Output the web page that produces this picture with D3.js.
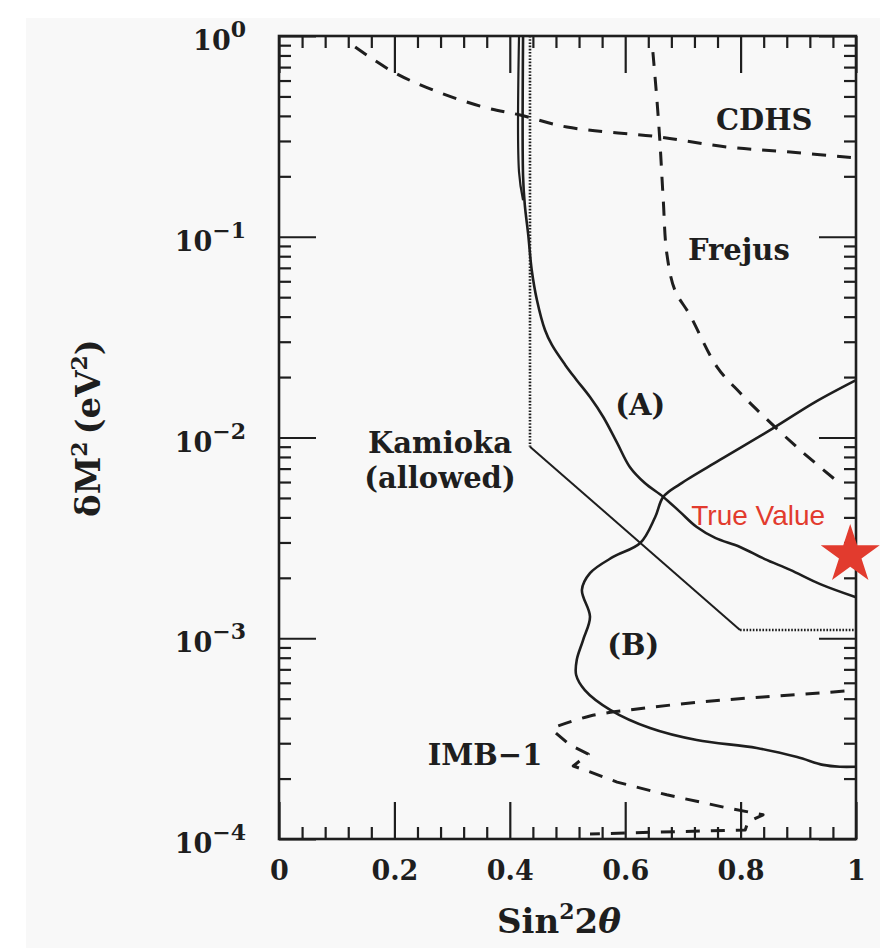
<!DOCTYPE html>
<html lang="en">
<head>
<meta charset="UTF-8">
<title>Kamioka allowed region</title>
<script src="https://d3js.org/d3.v7.min.js"></script>
<style>
  body { margin: 0; background: #fff; }
  svg { display: block; }
  .lbl { font-family: "DejaVu Serif", serif; font-weight: bold; fill: #1e1e1e; }
</style>
</head>
<body>
<div id="chart"></div>
<script>
// axis ticks
const xTicks = [0, 0.2, 0.4, 0.6, 0.8, 1];
const xTickLabels = ["0", "0.2", "0.4", "0.6", "0.8", "1"];
const yTicks = [1, 1e-1, 1e-2, 1e-3, 1e-4];
const yTickExp = ["0", "\u22121", "\u22122", "\u22123", "\u22124"];

// Kamioka (A) boundary, solid
const curveA = [[0.423,1],[0.423,0.20],[0.426,0.144],[0.432,0.102],[0.438,0.0683],[0.447,0.0484],
  [0.461,0.0343],[0.473,0.0289],[0.496,0.0230],[0.516,0.0193],[0.539,0.0159],[0.562,0.01265],
  [0.586,0.0094],[0.608,0.00713],[0.634,0.00593],[0.666,0.00506],[0.695,0.00426],[0.724,0.00358],
  [0.756,0.00316],[0.799,0.00285],[0.842,0.00248],[0.886,0.00219],[0.938,0.00186],[1,0.0016]];
const curveA2 = [[0.416,1],[0.416,0.21],[0.423,0.152]];

// Kamioka other boundary: dotted vertical, thin diagonal, dotted horizontal
const kamVert = [[0.435,1],[0.435,0.009]];
const kamDiag = [[0.435,0.009],[0.799,0.0011]];
const kamHorz = [[0.799,0.0011],[1,0.0011]];

// Kamioka (B) boundary, solid
const curveB = [[1,0.0193],[0.929,0.0150],[0.856,0.0111],[0.764,0.00773],[0.695,0.00586],[0.666,0.00506],
  [0.652,0.00402],[0.626,0.00298],[0.579,0.00254],[0.539,0.00211],[0.525,0.00174],[0.539,0.00128],
  [0.527,0.00098],[0.516,0.00078],[0.515,0.000656],[0.530,0.000552],[0.574,0.00044],[0.643,0.000357],
  [0.724,0.000311],[0.828,0.000284],[0.898,0.000256],[0.943,0.000234],[0.972,0.000229],[1,0.000229]];

// excluded limits, dashed
const cdhs = [[0.132,0.881],[0.198,0.662],[0.267,0.538],[0.354,0.443],[0.418,0.404],[0.499,0.352],
  [0.660,0.314],[0.776,0.280],[0.886,0.264],[1,0.247]];
const frejus = [[0.648,0.832],[0.655,0.480],[0.660,0.303],[0.666,0.152],[0.672,0.083],[0.686,0.0543],
  [0.712,0.0408],[0.759,0.0225],[0.799,0.0167],[0.834,0.01325],[0.903,0.00867],[0.969,0.0060]];
const imbUpper = [[0.484,3.66e-4],[0.539,4.10e-4],[0.608,4.40e-4],[0.730,4.81e-4],[0.839,5.10e-4],
  [0.938,5.34e-4],[1,5.52e-4]];
const imbLower = [[0.480,3.37e-4],[0.504,2.94e-4],[0.536,2.65e-4],[0.510,2.31e-4],[0.539,2.16e-4],
  [0.586,1.92e-4],[0.672,1.66e-4],[0.776,1.43e-4],[0.839,1.32e-4],[0.813,1.22e-4],[0.808,1.11e-4],
  [0.539,1.06e-4]];

const trueValue = [[0.99, 2.6e-3]];

// region labels (baseline positions)
const labels = [
  {t: "CDHS", x: 0.841, y: 0.34},
  {t: "Frejus", x: 0.797, y: 0.0766},
  {t: "(A)", x: 0.626, y: 0.01295},
  {t: "Kamioka", x: 0.279, y: 0.00837},
  {t: "(allowed)", x: 0.279, y: 0.0056},
  {t: "(B)", x: 0.614, y: 8.26e-4},
  {t: "IMB\u22121", x: 0.357, y: 2.34e-4}
];

const W = 888, H = 948;
const x = d3.scaleLinear().domain([0, 1]).range([279, 856]);
const y = d3.scaleLog().domain([1e-4, 1]).range([839, 36]);

const svg = d3.select("#chart").append("svg").attr("width", W).attr("height", H);
svg.append("rect").attr("x", 26).attr("y", 18).attr("width", 854).attr("height", H - 18).attr("fill", "#f8f8f8");

const ink = "#1e1e1e";
const xMinor = d3.range(0, 1.0001, 0.04).filter(v => Math.abs(v / 0.2 - Math.round(v / 0.2)) > 1e-6);
const yMinor = [];
[1e-4, 1e-3, 1e-2, 1e-1].forEach(d => { for (let k = 2; k <= 9; k++) yMinor.push(d * k); });

function styleAxis(g) {
  g.select(".domain").remove();
  g.selectAll(".tick line").attr("stroke", ink).attr("stroke-width", 2.2);
}

// bottom / top
svg.append("g").attr("transform", "translate(0,839)")
  .call(d3.axisBottom(x).tickValues(xTicks).tickSize(-37).tickPadding(22).tickFormat((d, i) => xTickLabels[i]))
  .call(styleAxis)
  .call(g => g.selectAll("text").attr("class", "lbl").attr("font-size", 27).attr("fill", ink));
svg.append("g").attr("transform", "translate(0,839)")
  .call(d3.axisBottom(x).tickValues(xMinor).tickSize(-12).tickFormat("")).call(styleAxis);
svg.append("g").attr("transform", "translate(0,36)")
  .call(d3.axisTop(x).tickValues(xTicks).tickSize(-37).tickFormat("")).call(styleAxis);
svg.append("g").attr("transform", "translate(0,36)")
  .call(d3.axisTop(x).tickValues(xMinor).tickSize(-12).tickFormat("")).call(styleAxis);

// left / right
svg.append("g").attr("transform", "translate(279,0)")
  .call(d3.axisLeft(y).tickValues(yTicks).tickSize(-37).tickFormat("")).call(styleAxis);
svg.append("g").attr("transform", "translate(279,0)")
  .call(d3.axisLeft(y).tickValues(yMinor).tickSize(-12).tickFormat("")).call(styleAxis);
svg.append("g").attr("transform", "translate(856,0)")
  .call(d3.axisRight(y).tickValues(yTicks).tickSize(-37).tickFormat("")).call(styleAxis);
svg.append("g").attr("transform", "translate(856,0)")
  .call(d3.axisRight(y).tickValues(yMinor).tickSize(-12).tickFormat("")).call(styleAxis);

// y tick labels 10^n
yTicks.forEach((v, i) => {
  const t = svg.append("text").attr("class", "lbl").attr("font-size", 27)
    .attr("x", 246).attr("y", y(v) + 14).attr("text-anchor", "end");
  t.append("tspan").text("10");
  t.append("tspan").attr("font-size", 22).attr("dy", -13).text(yTickExp[i]);
});

// frame
svg.append("rect").attr("x", 279).attr("y", 36).attr("width", 577).attr("height", 803)
  .attr("fill", "none").attr("stroke", ink).attr("stroke-width", 2.6);

const line = d3.line().x(d => x(d[0])).y(d => y(d[1]));
const smooth = d3.line().x(d => x(d[0])).y(d => y(d[1])).curve(d3.curveCatmullRom.alpha(0.5));

const plot = svg.append("g").attr("fill", "none").attr("stroke", ink).attr("stroke-linejoin", "round");
plot.append("path").attr("d", smooth(curveA)).attr("stroke-width", 2.6);
plot.append("path").attr("d", smooth(curveA2)).attr("stroke-width", 2.2);
plot.append("path").attr("d", smooth(curveB)).attr("stroke-width", 2.6);
plot.append("path").attr("d", line(kamVert)).attr("stroke-width", 2.6).attr("stroke-dasharray", "1.6,1.6");
plot.append("path").attr("d", line(kamDiag)).attr("stroke-width", 2);
plot.append("path").attr("d", line(kamHorz)).attr("stroke-width", 2.6).attr("stroke-dasharray", "1.6,1.6");
[cdhs, frejus, imbUpper].forEach(s => {
  plot.append("path").attr("d", smooth(s)).attr("stroke-width", 3).attr("stroke-dasharray", "14,11");
});
plot.append("path").attr("d", line(imbLower)).attr("stroke-width", 3).attr("stroke-dasharray", "14,11");

// region labels
labels.forEach(l => {
  svg.append("text").attr("class", "lbl").attr("font-size", 29).attr("text-anchor", "middle")
    .attr("x", x(l.x)).attr("y", y(l.y)).text(l.t);
});

// true value marker
svg.selectAll(".star").data(trueValue).enter().append("path")
  .attr("d", d3.symbol(d3.symbolStar).size(1080))
  .attr("transform", d => `translate(${x(d[0])},${y(d[1])})`)
  .attr("fill", "#e23b2e");
svg.append("text").attr("x", x(trueValue[0][0]) - 92).attr("y", y(trueValue[0][1]) - 30)
  .attr("text-anchor", "middle").attr("font-family", "Liberation Sans, Arial, sans-serif")
  .attr("font-size", 28).attr("font-weight", 500).attr("fill", "#e23b2e").text("True Value");

// axis titles
const xt = svg.append("text").attr("class", "lbl").attr("font-size", 34).attr("text-anchor", "middle")
  .attr("x", 559).attr("y", 933);
xt.append("tspan").text("Sin");
xt.append("tspan").attr("font-size", 22).attr("dy", -14).text("2");
xt.append("tspan").attr("dy", 14).text("2");
xt.append("tspan").attr("font-style", "italic").text("\u03b8");

const yt = svg.append("text").attr("class", "lbl").attr("font-size", 34).attr("text-anchor", "middle")
  .attr("transform", "translate(100,428) rotate(-90)");
yt.append("tspan").text("\u03b4M");
yt.append("tspan").attr("font-size", 22).attr("dy", -13).text("2");
yt.append("tspan").attr("dy", 13).text("\u2009(eV");
yt.append("tspan").attr("font-size", 22).attr("dy", -13).text("2");
yt.append("tspan").attr("dy", 13).text(")");
</script>
</body>
</html>
